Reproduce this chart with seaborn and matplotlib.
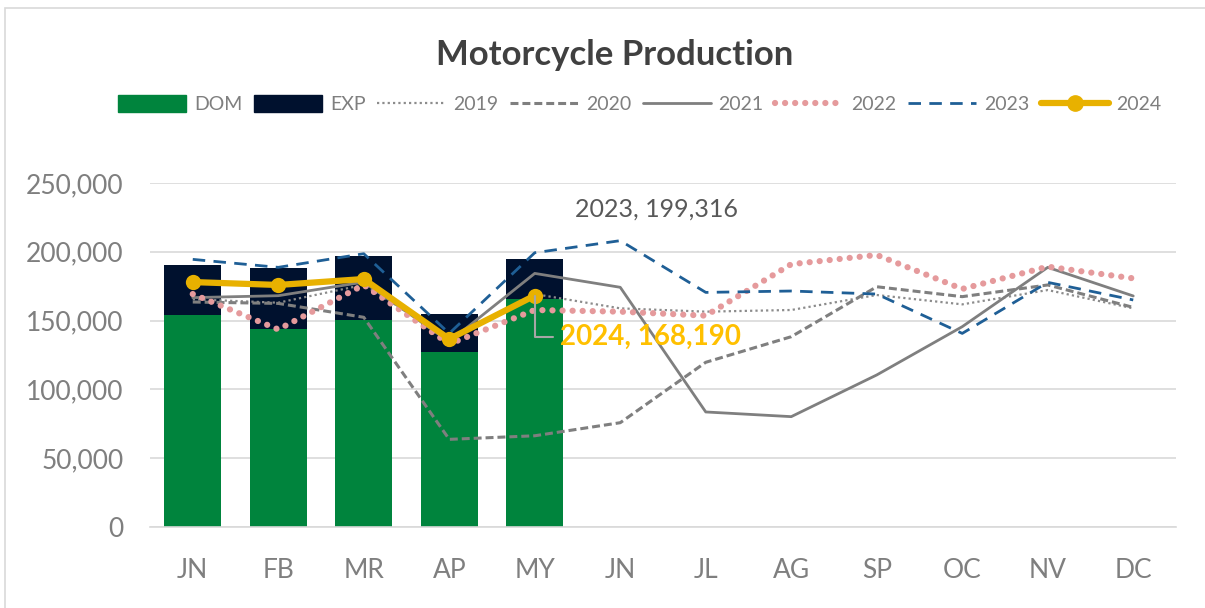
import numpy as np
import pandas as pd
import matplotlib
matplotlib.use('Agg')
import matplotlib.pyplot as plt
import seaborn as sns
from matplotlib.patches import Patch, Rectangle
from matplotlib.lines import Line2D

# data
months = ['JN', 'FB', 'MR', 'AP', 'MY', 'JN', 'JL', 'AG', 'SP', 'OC', 'NV', 'DC']
dom = [154000, 143900, 150200, 127100, 165700]
exp = [36400, 44500, 46700, 27500, 29200]
y2019 = [165500, 163000, 176000, 137100, 169300, 158900, 156500, 157700, 168600, 161800, 172200, 158900]
y2020 = [163500, 162500, 152400, 63700, 66300, 75800, 119700, 138300, 174600, 167400, 175900, 159600]
y2021 = [166700, 168100, 178000, 134700, 184300, 174200, 83600, 80200, 110500, 145600, 188700, 167900]
y2022 = [169300, 143600, 175900, 133000, 157700, 156500, 153600, 191000, 197700, 173000, 189200, 180700]
y2023 = [194500, 188700, 198600, 140700, 199316, 208100, 170500, 171500, 169300, 140700, 177800, 165000]
y2024 = [178000, 175900, 180200, 136600, 168190]

sns.set_theme(style='white')
plt.rcParams['font.family'] = ['Lato', 'DejaVu Sans']

fig = plt.figure(figsize=(12.05, 6.08), dpi=100)
ax = fig.add_axes([150 / 1205, 1 - 527 / 608, 1026 / 1205, 344 / 608])

x_all = np.arange(len(months))
bars = pd.DataFrame({'x': x_all[:len(dom)], 'dom': dom, 'total': np.array(dom) + np.array(exp)})

# stacked bars: total (EXP colour) then DOM on top
sns.barplot(data=bars, x='x', y='total', color='#00112E', width=0.67, saturation=1,
            native_scale=True, ax=ax, zorder=2, linewidth=0)
sns.barplot(data=bars, x='x', y='dom', color='#00843D', width=0.67, saturation=1,
            native_scale=True, ax=ax, zorder=2, linewidth=0)

gray = '#7F7F7F'
sns.lineplot(x=x_all, y=y2019, color='#8C8C8C', lw=1.6, linestyle=(0, (1, 1.4)), ax=ax, zorder=3)
sns.lineplot(x=x_all, y=y2020, color=gray, lw=2.2, linestyle=(0, (2.6, 1.3)), ax=ax, zorder=3)
sns.lineplot(x=x_all, y=y2021, color=gray, lw=2.0, ax=ax, zorder=3)
l22 = sns.lineplot(x=x_all, y=y2022, color='#E59A9C', lw=4.5, linestyle=(0, (0.01, 1.6)), ax=ax, zorder=3)
l22.lines[-1].set_dash_capstyle('round')
sns.lineplot(x=x_all, y=y2023, color='#1F5F96', lw=2.0, linestyle=(0, (4.5, 3)), ax=ax, zorder=3)
sns.lineplot(x=x_all[:len(y2024)], y=y2024, color='#E8B100', lw=4.5, marker='o',
             markersize=11, markeredgewidth=0, ax=ax, zorder=4)

ax.set_xlim(-0.5, 11.5)
ax.set_ylim(0, 250000)
ax.set_yticks(np.arange(0, 250001, 50000))
ax.set_yticklabels([f'{v:,}' for v in range(0, 250001, 50000)])
ax.set_xticks(x_all)
ax.set_xticklabels(months)
ax.tick_params(axis='both', labelsize=19, labelcolor='#7F7F7F', length=0)
ax.tick_params(axis='x', pad=22)
ax.tick_params(axis='y', pad=19)
ax.set_xlabel('')
ax.set_ylabel('')
ax.grid(axis='y', color='#D9D9D9', lw=1.2, zorder=0)
ax.set_axisbelow(True)
for s in ['left', 'right', 'top']:
    ax.spines[s].set_visible(False)
ax.spines['bottom'].set_color('#D9D9D9')
ax.spines['bottom'].set_linewidth(1.2)
for art in ax.lines + ax.patches:
    art.set_clip_on(False)

# labels
ax.annotate('2024, 168,190', xy=(4, y2024[4]), xytext=(4.29, 138000),
            fontsize=20, fontweight='bold', color='#FFC000', ha='left', va='center',
            arrowprops=dict(arrowstyle='-', color='#A6A6A6', lw=1.5, shrinkA=2, shrinkB=0,
                            connectionstyle='angle,angleA=0,angleB=90'), zorder=5)
ax.text(4.47, 231000, '2023, 199,316', fontsize=18, color='#595959', ha='left', va='center')

fig.text(615 / 1205, 1 - 55 / 608, 'Motorcycle Production', fontsize=25, fontweight='bold',
         color='#404040', ha='center', va='center')

handles = [
    Patch(color='#00843D', label='DOM'),
    Patch(color='#00112E', label='EXP'),
    Line2D([], [], color='#8C8C8C', lw=1.6, linestyle=(0, (1, 1.4)), label='2019'),
    Line2D([], [], color=gray, lw=2.2, linestyle=(0, (2.6, 1.3)), label='2020'),
    Line2D([], [], color=gray, lw=2.0, label='2021'),
    Line2D([], [], color='#E59A9C', lw=4.5, linestyle=(0, (0.01, 1.6)), dash_capstyle='round', label='2022'),
    Line2D([], [], color='#1F5F96', lw=2.0, linestyle=(0, (4.5, 3)), label='2023'),
    Line2D([], [], color='#E8B100', lw=4.5, marker='o', markersize=11, label='2024'),
]
leg = fig.legend(handles=handles, loc='center', bbox_to_anchor=(640 / 1205, 1 - 104 / 608), ncol=8,
                 frameon=False, fontsize=14, handlelength=3.5, handleheight=1.0,
                 columnspacing=0.6, handletextpad=0.4, labelcolor='#7F7F7F')

fig.patches.append(Rectangle((5 / 1205, -0.05), 1.1, 1 - 8 / 608 + 0.05, transform=fig.transFigure,
                             fill=False, edgecolor='#D9D9D9', lw=1.2))

fig.savefig('out.png', dpi=100)
